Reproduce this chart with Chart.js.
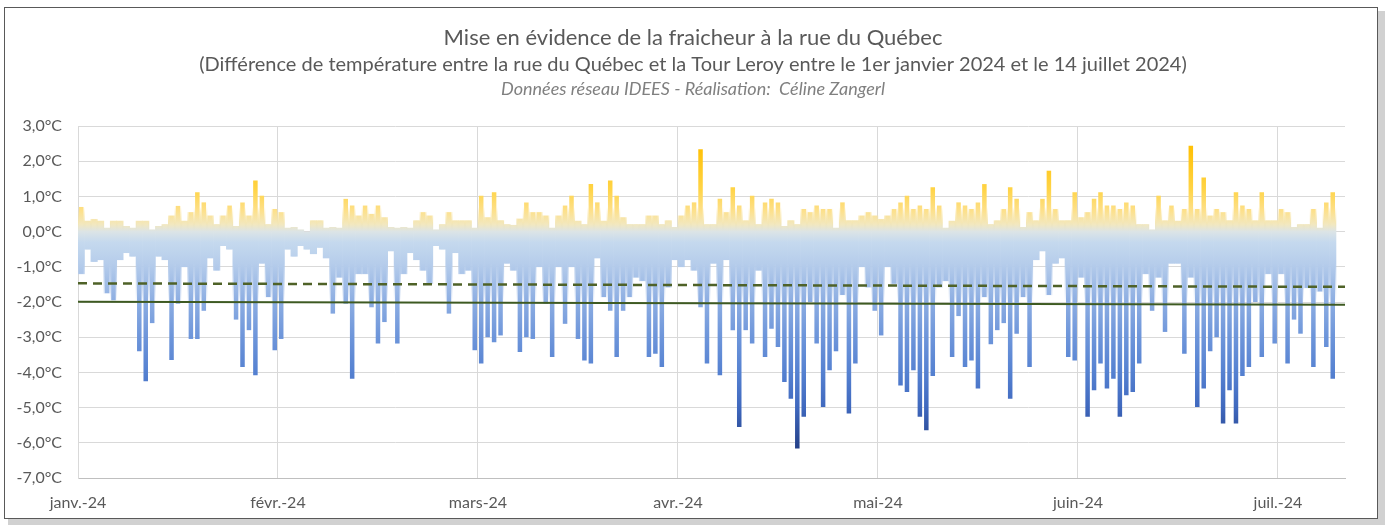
<!DOCTYPE html>
<html lang="fr">
<head>
<meta charset="utf-8">
<title>Fraicheur rue du Québec</title>
<script src="https://cdn.jsdelivr.net/npm/chart.js@4.4.1/dist/chart.umd.min.js"></script>
<style>
  html, body { margin: 0; padding: 0; background: #fff; }
  #wrap { width: 1392px; height: 525px; }
</style>
</head>
<body>
<div id="wrap"><canvas id="chart" width="1392" height="525"></canvas></div>
<script>
// écart rue du Québec - Tour Leroy, extrêmes journaliers (°C), jour 0 = 1er janvier 2024
const dailyMax = [
  0.7, 0.3, 0.35, 0.3, 0.1, 0.3, 0.3, 0.15, 0.1, 0.3,
  0.3, 0.05, 0.15, 0.2, 0.45, 0.73, 0.3, 0.55, 1.12, 0.83,
  0.45, 0.2, 0.45, 0.74, 0.15, 0.83, 0.45, 1.45, 1.02, 0.2,
  0.64, 0.55, 0.1, 0.12, 0.05, 0.0, 0.31, 0.31, 0.1, 0.12,
  0.1, 0.93, 0.74, 0.45, 0.74, 0.5, 0.74, 0.4, 0.12, 0.1,
  0.12, 0.1, 0.31, 0.55, 0.45, 0.05, 0.2, 0.55, 0.31, 0.31,
  0.31, 0.1, 1.02, 0.4, 1.12, 0.31, 0.2, 0.18, 0.36, 0.83,
  0.55, 0.55, 0.45, 0.1, 0.45, 0.74, 1.02, 0.3, 0.2, 1.35,
  0.83, 0.3, 1.45, 1.02, 0.4, 0.2, 0.2, 0.2, 0.45, 0.45,
  0.2, 0.31, 0.12, 0.45, 0.74, 0.83, 2.34, 0.2, 0.2, 0.93,
  0.55, 1.26, 0.74, 0.31, 1.02, 0.2, 0.83, 0.93, 0.83, 0.15,
  0.31, 0.2, 0.64, 0.55, 0.74, 0.64, 0.64, 0.1, 0.83, 0.31,
  0.31, 0.45, 0.55, 0.45, 0.35, 0.45, 0.64, 0.83, 1.02, 0.64,
  0.74, 0.64, 1.26, 0.74, 0.1, 0.3, 0.83, 0.74, 0.64, 0.83,
  1.35, 0.2, 0.31, 0.64, 1.26, 0.93, 0.12, 0.55, 0.31, 0.93,
  1.73, 0.64, 0.31, 0.31, 1.12, 0.4, 0.55, 0.93, 1.12, 0.74,
  0.74, 0.64, 0.83, 0.74, 0.2, 0.2, 0.05, 1.02, 0.31, 0.74,
  0.3, 0.64, 2.44, 0.64, 1.54, 0.45, 0.64, 0.55, 0.31, 1.12,
  0.74, 0.64, 0.31, 1.12, 0.31, 0.31, 0.64, 0.55, 0.12, 0.2,
  0.2, 0.64, 0.1, 0.83, 1.12
];
const dailyMin = [
  -1.2, -0.5, -0.85, -0.8, -1.75, -1.95, -0.8, -0.6, -0.7, -3.4,
  -4.25, -2.6, -0.7, -0.8, -3.65, -2.05, -1.0, -3.05, -3.05, -2.25,
  -0.75, -1.1, -0.4, -0.5, -2.5, -3.85, -2.8, -4.08, -0.9, -1.86,
  -3.37, -3.05, -0.5, -0.7, -0.4, -0.5, -0.63, -0.45, -0.75, -2.33,
  -1.3, -2.05, -4.18, -1.2, -1.2, -2.15, -3.18, -2.57, -0.55, -3.18,
  -1.2, -0.6, -0.8, -1.1, -1.48, -0.4, -0.5, -2.33, -0.6, -1.2,
  -1.1, -3.37, -3.75, -3.0, -3.14, -2.95, -0.9, -1.1, -3.42, -3.0,
  -3.05, -1.0, -2.05, -3.56, -1.0, -2.62, -1.0, -3.05, -3.66, -3.75,
  -0.75, -1.86, -2.25, -3.56, -2.25, -1.86, -1.3, -1.4, -3.56, -3.47,
  -3.85, -1.58, -0.8, -1.0, -0.8, -1.1, -2.15, -3.75, -0.9, -4.08,
  -0.8, -2.8, -5.55, -2.8, -3.18, -1.1, -3.56, -2.76, -3.28, -4.27,
  -4.75, -6.16, -5.26, -2.0, -3.18, -4.98, -3.94, -3.4, -1.8, -5.17,
  -3.75, -1.0, -1.58, -2.25, -2.95, -1.0, -1.48, -4.37, -4.56, -3.94,
  -5.26, -5.64, -4.1, -1.58, -1.4, -3.56, -2.4, -3.85, -3.66, -4.46,
  -1.86, -3.2, -2.8, -2.6, -4.75, -2.9, -1.86, -3.85, -0.8, -0.55,
  -1.8, -0.9, -0.75, -3.56, -3.66, -1.3, -5.26, -4.51, -3.75, -4.46,
  -4.18, -5.26, -4.65, -4.56, -3.75, -1.2, -2.25, -1.3, -2.85, -0.9,
  -0.9, -3.47, -1.3, -4.98, -4.46, -3.4, -3.0, -5.45, -4.51, -5.45,
  -4.1, -3.85, -2.0, -3.56, -1.2, -3.18, -1.2, -3.75, -2.5, -2.9,
  -1.6, -3.85, -1.7, -3.28, -4.18
];

// repères mensuels (un repère tous les 31 jours)
const monthTicks = [0, 31, 62, 93, 124, 155, 186];
const monthLabels = ['janv.-24', 'févr.-24', 'mars-24', 'avr.-24', 'mai-24', 'juin-24', 'juil.-24'];

// droites de tendance : début et fin de période
const trendX = [0, 196.4];
const meanTrend = [-1.47, -1.57];
const lowTrend = [-1.99, -2.08];

const titleLines = [
  'Mise en évidence de la fraicheur à la rue du Québec',
  '(Différence de température entre la rue du Québec et la Tour Leroy entre le 1er janvier 2024 et le 14 juillet 2024)',
  'Données réseau IDEES - Réalisation:  Céline Zangerl'
];

// dégradé vertical : jaune au-dessus de 0, bleu de plus en plus foncé en dessous
const colorStops = [
  [3.0, '#FFBF00'],
  [2.3, '#FFC20A'],
  [1.2, '#FFD447'],
  [0.6, '#FDE08A'],
  [0.2, '#F2E8C0'],
  [0.0, '#DCE4E6'],
  [-0.3, '#C5D9EE'],
  [-0.9, '#B6CDEB'],
  [-2.0, '#8CADE2'],
  [-3.0, '#6D95DA'],
  [-4.0, '#5581D1'],
  [-5.0, '#3F68BE'],
  [-6.2, '#233F86'],
  [-7.0, '#1F3A7A']
];
// même dégradé pour le fond continu autour de 0, qui s'efface loin de 0
const bandStops = [
  [0.7, 'rgba(252,222,130,0)'],
  [0.25, '#F4E6B4'],
  [0.0, '#DCE4E6'],
  [-0.3, '#C5D9EE'],
  [-0.9, '#B6CDEB'],
  [-2.0, 'rgba(140,173,226,0)']
];

const gradCache = {};
function makeGradient(name, stops) {
  return function (ctx) {
    const chart = ctx.chart;
    const area = chart.chartArea;
    if (!area) return '#B6CDEB';
    const y = chart.scales.y;
    const key = area.top + ':' + area.bottom;
    if (gradCache[name] && gradCache[name].key === key) return gradCache[name].grad;
    const top = y.getPixelForValue(y.max);
    const bottom = y.getPixelForValue(y.min);
    const grad = chart.ctx.createLinearGradient(0, top, 0, bottom);
    stops.forEach(([v, c]) => {
      grad.addColorStop((y.getPixelForValue(v) - top) / (bottom - top), c);
    });
    gradCache[name] = { key, grad };
    return grad;
  };
}

// cadre du graphique + titres
const frame = {
  id: 'frame',
  beforeDraw(chart) {
    const c = chart.ctx;
    c.save();
    c.fillStyle = '#fff';
    c.fillRect(0, 0, chart.width, chart.height);
    c.fillStyle = 'rgba(0,0,0,0.18)';
    c.fillRect(8, 11, 1377, 514);
    c.fillStyle = '#fff';
    c.fillRect(4, 7, 1374, 512);
    c.strokeStyle = '#595959';
    c.lineWidth = 1;
    c.strokeRect(4.5, 7.5, 1373, 511);
    c.restore();
  },
  afterDraw(chart) {
    const c = chart.ctx;
    const cx = 693;
    c.save();
    c.textAlign = 'center';
    c.textBaseline = 'middle';
    c.fillStyle = '#595959';
    c.font = '22px Lato';
    c.fillText(titleLines[0], cx, 38);
    c.font = '20px Lato';
    c.fillText(titleLines[1], cx, 65);
    c.fillStyle = '#808080';
    c.font = 'italic 18px Lato';
    c.fillText(titleLines[2], cx, 89);
    c.restore();
  }
};

const barData = dailyMax.map((hi, i) => ({ x: i + 0.5, y: [dailyMin[i], hi] }));

new Chart(document.getElementById('chart'), {
  type: 'bar',
  data: {
    datasets: [
      {
        type: 'line',
        label: 'Moyenne',
        data: trendX.map((x, i) => ({ x, y: meanTrend[i] })),
        borderColor: '#4F6228',
        borderWidth: 2.5,
        borderDash: [9, 6],
        pointRadius: 0,
        order: 1
      },
      {
        type: 'line',
        label: 'Tendance',
        data: trendX.map((x, i) => ({ x, y: lowTrend[i] })),
        borderColor: '#3E5A22',
        borderWidth: 2,
        pointRadius: 0,
        order: 1
      },
      {
        label: 'Écart',
        data: barData,
        backgroundColor: makeGradient('spike', colorStops),
        borderWidth: 0,
        grouped: false,
        categoryPercentage: 1,
        barPercentage: 0.7,
        order: 2
      },
      {
        label: 'Écart (fond)',
        data: barData,
        backgroundColor: makeGradient('band', bandStops),
        borderWidth: 0,
        grouped: false,
        categoryPercentage: 1,
        barPercentage: 1,
        order: 3
      }
    ]
  },
  options: {
    responsive: false,
    animation: false,
    devicePixelRatio: 1,
    layout: { padding: { top: 126, right: 47, bottom: 0, left: 0 } },
    plugins: {
      legend: { display: false },
      tooltip: { enabled: false }
    },
    scales: {
      x: {
        type: 'linear',
        min: 0,
        max: 196.4,
        offset: false,
        grid: { color: '#D9D9D9', drawTicks: false, offset: false },
        border: { color: '#BFBFBF' },
        afterBuildTicks(scale) {
          scale.ticks = monthTicks.map(v => ({ value: v }));
        },
        afterFit(scale) { scale.height = 47; },
        ticks: {
          autoSkip: false,
          maxRotation: 0,
          padding: 15,
          color: '#595959',
          font: { family: 'Lato', size: 16 },
          callback: (v, i) => monthLabels[i]
        }
      },
      y: {
        min: -7,
        max: 3,
        grid: { color: '#D9D9D9', drawTicks: false },
        border: { color: '#D9D9D9' },
        afterFit(scale) { scale.width = 78; },
        ticks: {
          stepSize: 1,
          padding: 16,
          color: '#595959',
          font: { family: 'Lato', size: 16 },
          callback: v => v.toFixed(1).replace('.', ',') + '°C'
        }
      }
    }
  },
  plugins: [frame]
});
</script>
</body>
</html>
